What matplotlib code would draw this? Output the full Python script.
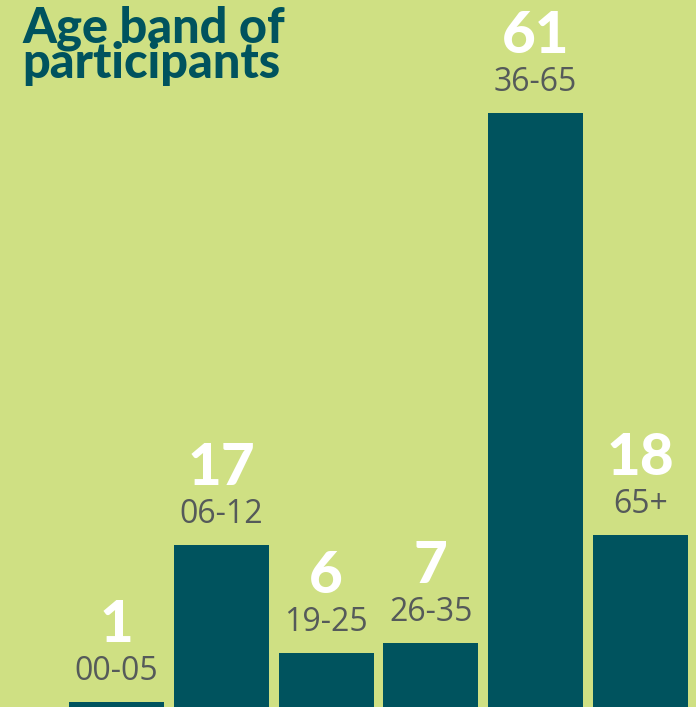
import matplotlib
matplotlib.use("Agg")
import matplotlib.pyplot as plt

categories = ["00-05", "06-12", "19-25", "26-35", "36-65", "65+"]
values = [1, 17, 6, 7, 61, 18]

BG = "#cfe083"
BAR = "#00535e"
GRAY = "#555a5a"

fig = plt.figure(figsize=(6.96, 7.07), dpi=100, facecolor=BG)
ax = fig.add_axes([0, 0, 1, 1])
ax.set_facecolor(BG)
x = list(range(len(values)))
ax.bar(x, values, width=0.906, color=BAR, zorder=2)
ax.set_xlim(-1.112, 5.530)
ax.set_ylim(0.49, 72.5)
ax.axis("off")

for xi, v, c in zip(x, values, categories):
    ax.annotate(c, (xi, v), xytext=(0, 22), textcoords="offset pixels",
                ha="center", va="baseline", fontsize=23, color=GRAY,
                family="Open Sans")
    ax.annotate(str(v), (xi, v), xytext=(0, 60), textcoords="offset pixels",
                ha="center", va="baseline", fontsize=42, color="white",
                fontweight=900, family="Lato")

fig.text(22 / 696, 1 - 78 / 707, "Age band of\nparticipants", ha="left",
         va="baseline", fontsize=35, fontweight=900, color=BAR, family="Lato",
         linespacing=0.72)

fig.savefig("out.png", dpi=100, facecolor=BG)
